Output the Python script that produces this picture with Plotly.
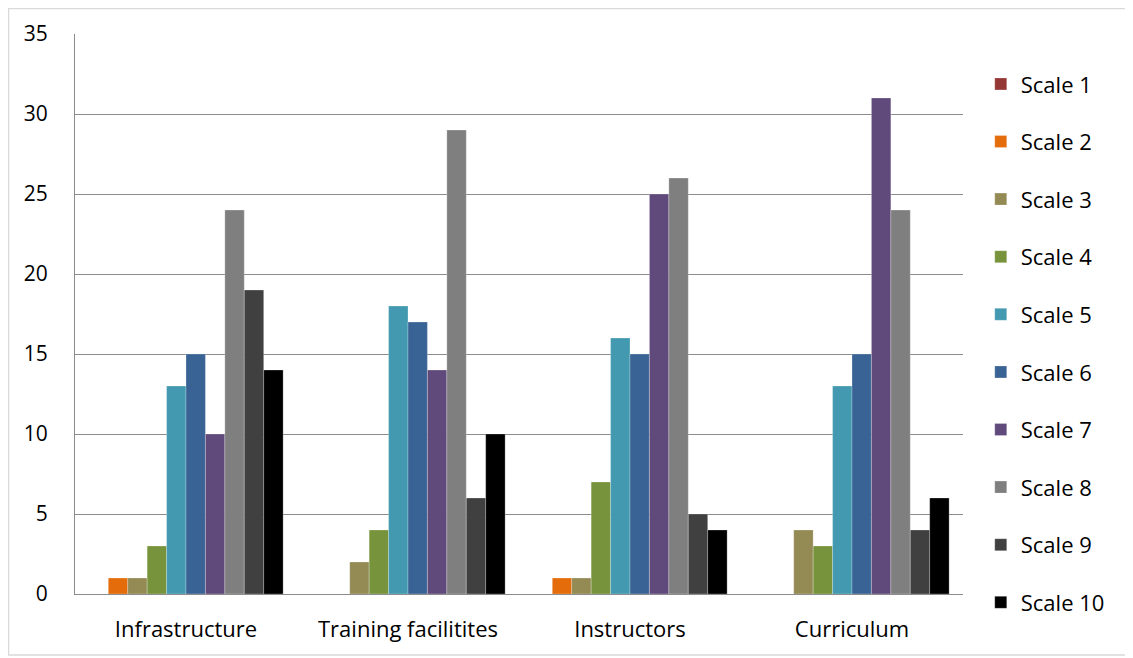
import plotly.graph_objects as go

categories = ["Infrastructure", "Training facilitites", "Instructors", "Curriculum"]
series_names = ["Scale 1", "Scale 2", "Scale 3", "Scale 4", "Scale 5",
                "Scale 6", "Scale 7", "Scale 8", "Scale 9", "Scale 10"]
scale1 = [0, 0, 0, 0]
scale2 = [1, 0, 1, 0]
scale3 = [1, 2, 1, 4]
scale4 = [3, 4, 7, 3]
scale5 = [13, 18, 16, 13]
scale6 = [15, 17, 15, 15]
scale7 = [10, 14, 25, 31]
scale8 = [24, 29, 26, 24]
scale9 = [19, 6, 5, 4]
scale10 = [14, 10, 4, 6]
colors = ["#953735", "#E46C0A", "#948A54", "#77933C", "#4299B0",
          "#3A6395", "#604A7B", "#7F7F7F", "#404040", "#000000"]

all_values = [scale1, scale2, scale3, scale4, scale5,
              scale6, scale7, scale8, scale9, scale10]

fig = go.Figure()
for name, vals, col in zip(series_names, all_values, colors):
    fig.add_trace(go.Bar(
        x=categories, y=vals, name=name, legendgroup=name,
        marker=dict(color=col, line=dict(color="rgba(255,255,255,0.5)", width=0.5)),
    ))

font_family = "Open Sans, Noto Sans, Liberation Sans, sans-serif"
fig.update_layout(
    width=1133, height=658,
    margin=dict(l=67, r=178, t=26, b=72),
    plot_bgcolor="white", paper_bgcolor="white",
    barmode="group", bargap=0.125, bargroupgap=0,
    font=dict(family=font_family, size=21, color="#000000"),
    legend=dict(x=1.02, y=0.948, xanchor="left", yanchor="top",
                tracegroupgap=26, font=dict(size=22), itemwidth=30,
                traceorder="grouped", maxheight=700),
    showlegend=True,
    shapes=[dict(type="rect", xref="paper", yref="paper",
                 x0=-0.0749, x1=1.1858, y0=-0.109, y1=1.0455,
                 line=dict(color="#D9D9D9", width=1.5), fillcolor="rgba(0,0,0,0)",
                 layer="below")],
)
fig.update_yaxes(range=[0, 35], dtick=5, showgrid=True, gridcolor="#8C8C8C",
                 gridwidth=1, showline=True, linecolor="#8C8C8C", linewidth=1,
                 zeroline=False, ticks="", ticklabelstandoff=22,
                 tickfont=dict(size=21))
fig.update_xaxes(showline=True, linecolor="#8C8C8C", linewidth=1, ticks="",
                 ticklabelstandoff=16, tickfont=dict(size=22))

fig.write_html("out.html")
